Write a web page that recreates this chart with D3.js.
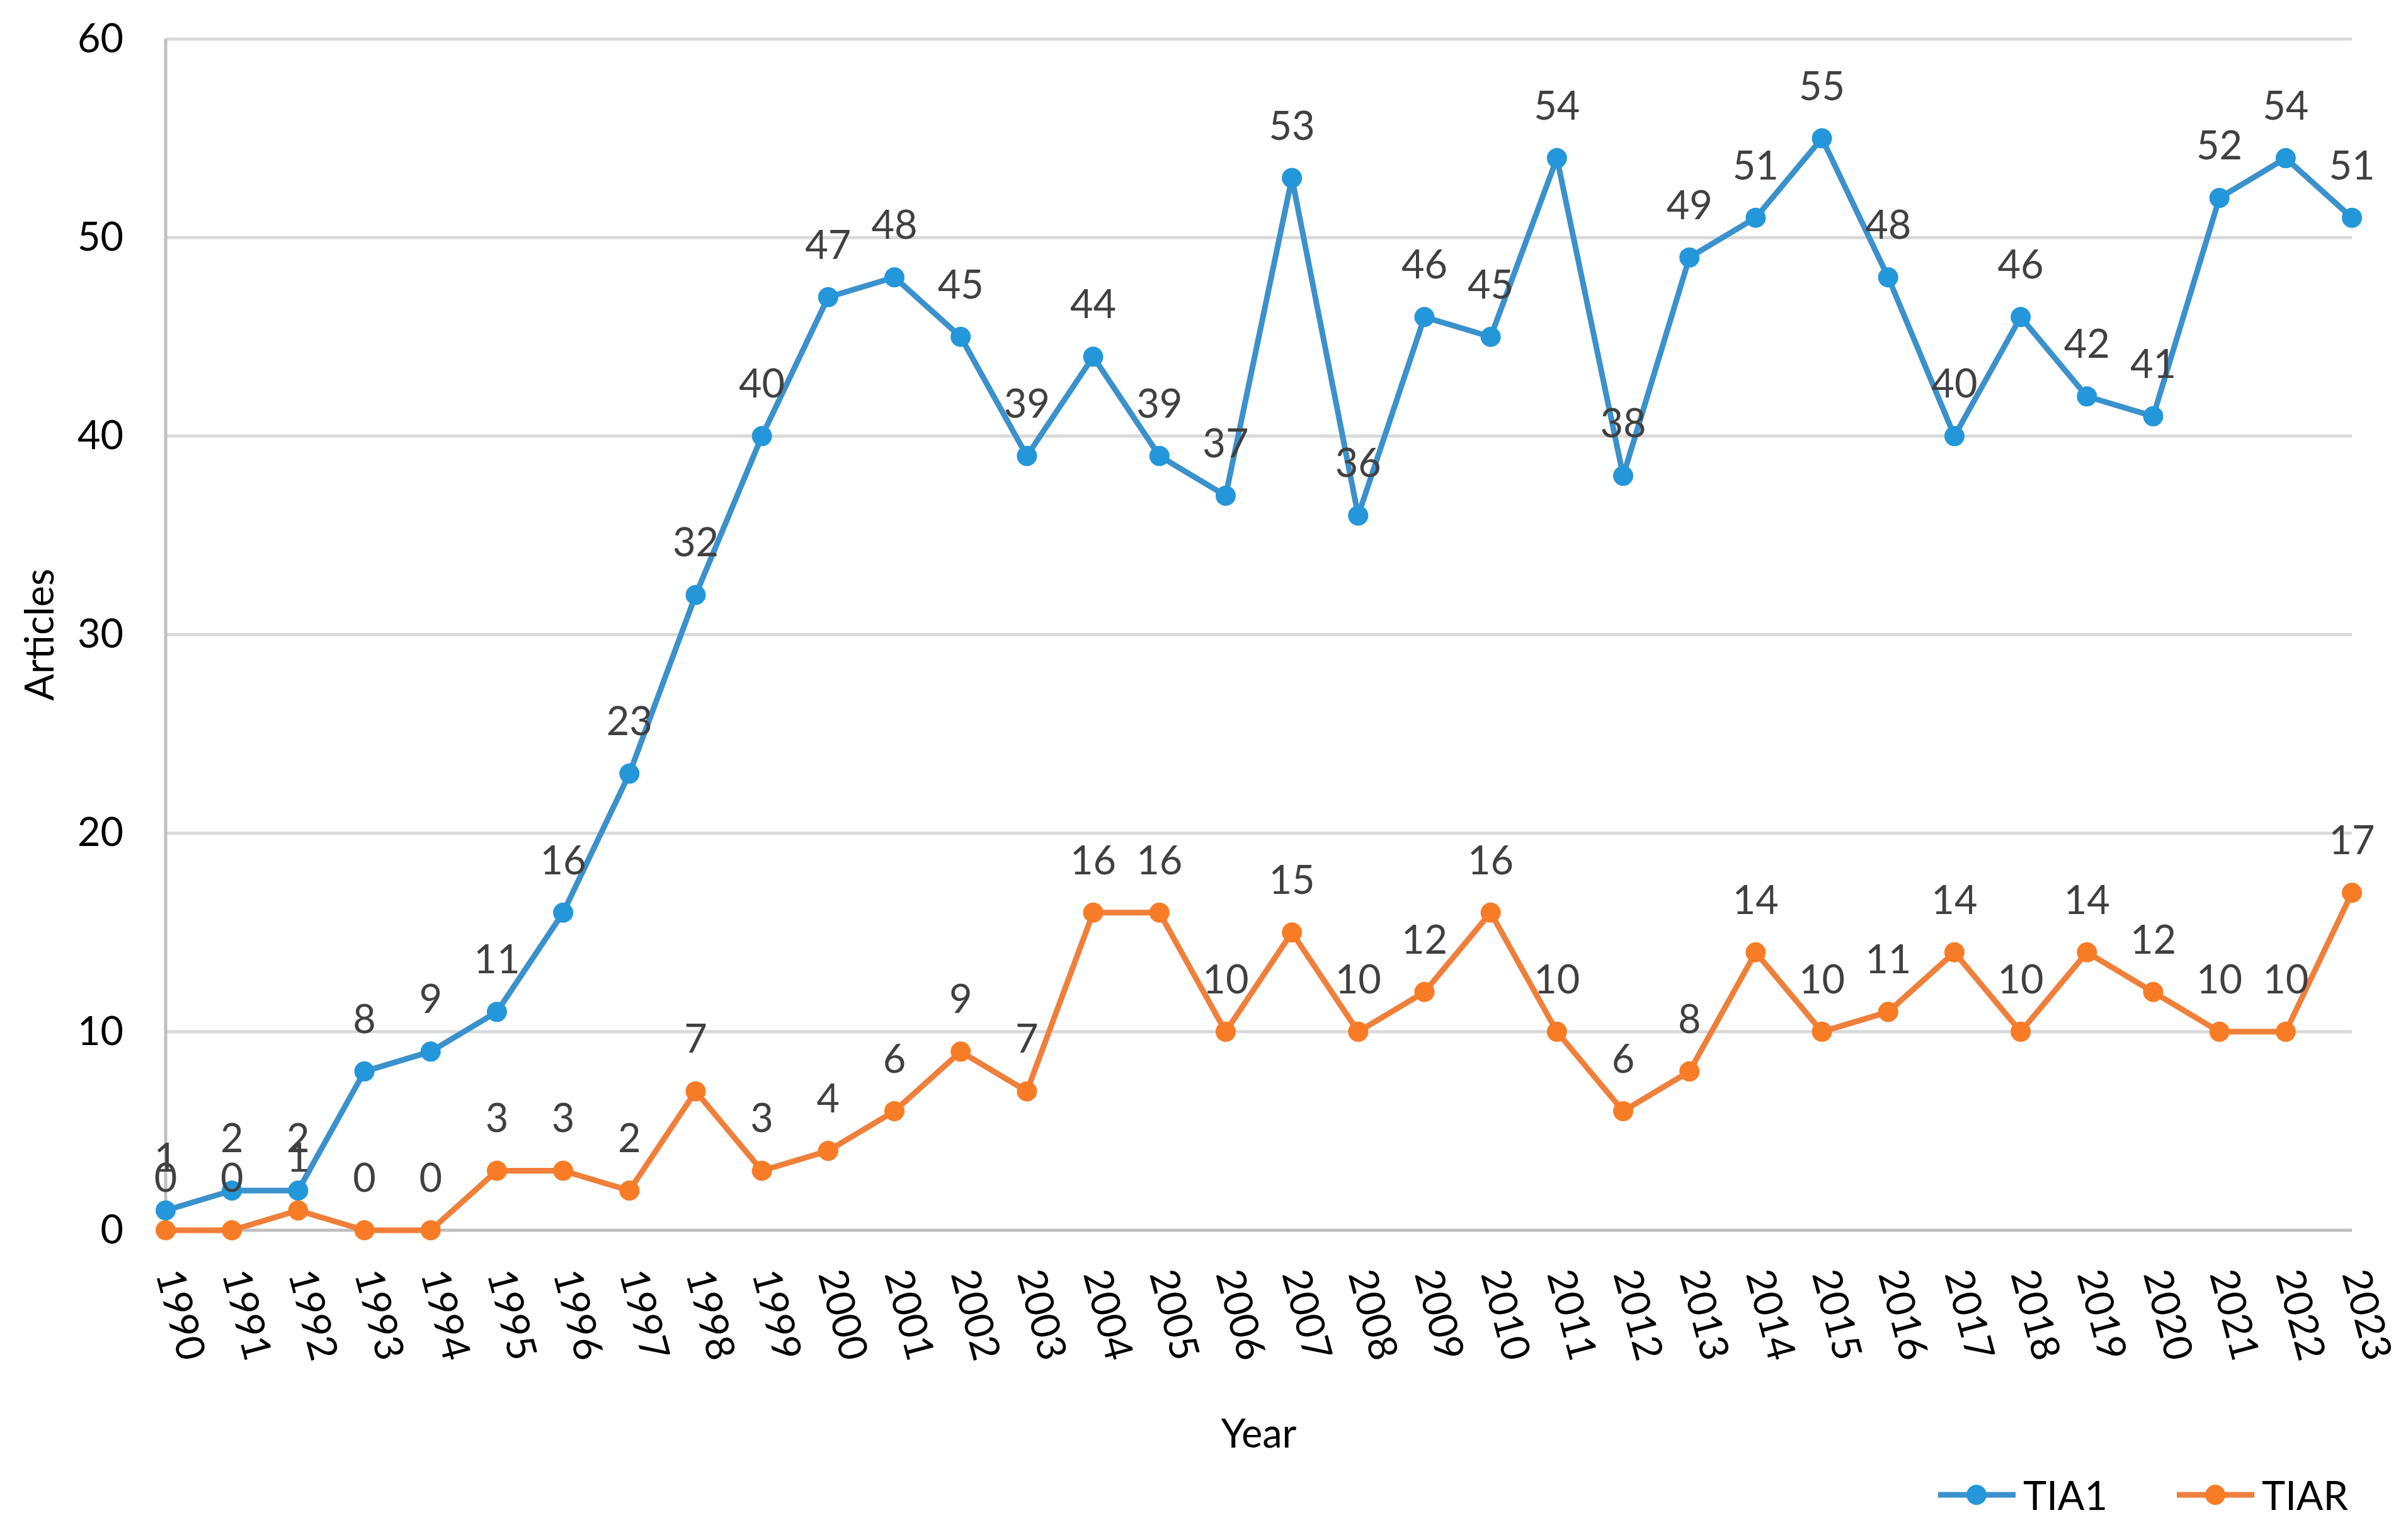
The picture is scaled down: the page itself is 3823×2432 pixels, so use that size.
<!DOCTYPE html>
<html>
<head>
<meta charset="utf-8">
<script src="https://cdn.jsdelivr.net/npm/d3@7"></script>
<style>
  body { margin: 0; background: #fff; }
  text { font-family: Lato, "Open Sans", sans-serif; }
</style>
</head>
<body>
<div id="chart"></div>
<script>
// data
const years = d3.range(1990, 2024).map(String);
const tia1 = [1, 2, 2, 8, 9, 11, 16, 23, 32, 40, 47, 48, 45, 39, 44, 39, 37, 53, 36, 46, 45, 54, 38, 49, 51, 55, 48, 40, 46, 42, 41, 52, 54, 51];
const tiar = [0, 0, 1, 0, 0, 3, 3, 2, 7, 3, 4, 6, 9, 7, 16, 16, 10, 15, 10, 12, 16, 10, 6, 8, 14, 10, 11, 14, 10, 14, 12, 10, 10, 17];
const yTicks = [0, 10, 20, 30, 40, 50, 60];
const seriesNames = ["TIA1", "TIAR"];

const width = 3823, height = 2432;
const fontSize = 63;

const series = [
  { name: seriesNames[0], values: tia1, line: "#3b91cc", dot: "#2397da" },
  { name: seriesNames[1], values: tiar, line: "#ef7f3a", dot: "#f87c26" }
];

const svg = d3.select("#chart")
  .append("svg")
  .attr("width", width)
  .attr("height", height);

const x = d3.scalePoint()
  .domain(years)
  .range([263, 3734]);

const y = d3.scaleLinear()
  .domain([0, 60])
  .range([1953, 62]);

// gridlines
svg.append("g")
  .selectAll("line")
  .data(yTicks.filter(d => d > 0))
  .enter()
  .append("line")
  .attr("x1", x.range()[0])
  .attr("x2", x.range()[1])
  .attr("y1", d => y(d))
  .attr("y2", d => y(d))
  .style("stroke", "#d9d9d9")
  .style("stroke-width", 5);

// axis lines
svg.append("line")
  .attr("x1", x.range()[0]).attr("x2", x.range()[0])
  .attr("y1", y(60)).attr("y2", y(0))
  .style("stroke", "#bfbfbf").style("stroke-width", 5);
svg.append("line")
  .attr("x1", x.range()[0]).attr("x2", x.range()[1])
  .attr("y1", y(0)).attr("y2", y(0))
  .style("stroke", "#bfbfbf").style("stroke-width", 5);

// y axis labels
const yAxis = svg.append("g")
  .attr("transform", `translate(${x.range()[0]},0)`)
  .call(d3.axisLeft(y).tickValues(yTicks).tickSize(0).tickPadding(67));
yAxis.select(".domain").remove();
yAxis.selectAll("text")
  .style("font-size", fontSize + "px")
  .style("font-family", "Lato")
  .style("fill", "#000");

// x axis labels, slanted
const xAxis = svg.append("g")
  .attr("transform", `translate(0,${y(0)})`)
  .call(d3.axisBottom(x).tickSize(0));
xAxis.select(".domain").remove();
xAxis.selectAll("text")
  .attr("transform", "translate(3,64) rotate(75)")
  .attr("x", 0)
  .attr("y", 0)
  .attr("dy", "0.32em")
  .style("text-anchor", "start")
  .style("font-size", fontSize + "px")
  .style("font-family", "Lato")
  .style("fill", "#000");

// axis titles
svg.append("text")
  .attr("transform", `translate(63,${(y(0) + y(60)) / 2}) rotate(-90)`)
  .attr("dy", "0.35em")
  .attr("text-anchor", "middle")
  .style("font-size", fontSize + "px")
  .text("Articles");

svg.append("text")
  .attr("x", (x.range()[0] + x.range()[1]) / 2)
  .attr("y", 2298)
  .attr("text-anchor", "middle")
  .style("font-size", fontSize + "px")
  .text("Year");

// lines and markers
const line = d3.line()
  .x((d, i) => x(years[i]))
  .y(d => y(d));

series.forEach(s => {
  svg.append("path")
    .datum(s.values)
    .attr("d", line)
    .style("fill", "none")
    .style("stroke", s.line)
    .style("stroke-width", 9)
    .style("stroke-linejoin", "round");

  svg.append("g")
    .selectAll("circle")
    .data(s.values)
    .enter()
    .append("circle")
    .attr("cx", (d, i) => x(years[i]))
    .attr("cy", d => y(d))
    .attr("r", 16)
    .style("fill", s.dot);
});

// data labels above each point
series.forEach(s => {
  svg.append("g")
    .selectAll("text")
    .data(s.values)
    .enter()
    .append("text")
    .attr("x", (d, i) => x(years[i]))
    .attr("y", d => y(d) - 61)
    .attr("text-anchor", "middle")
    .style("font-size", fontSize + "px")
    .style("fill", "#404040")
    .text(d => d);
});

// legend
const legendX = [3077, 3456];
series.forEach((s, i) => {
  const g = svg.append("g").attr("transform", `translate(${legendX[i]},2373)`);
  g.append("line")
    .attr("x1", 0).attr("x2", 123)
    .style("stroke", s.line)
    .style("stroke-width", 9);
  g.append("circle")
    .attr("cx", 61)
    .attr("r", 16)
    .style("fill", s.dot);
  g.append("text")
    .attr("x", 135)
    .attr("y", 24)
    .style("font-size", fontSize + "px")
    .style("fill", "#000")
    .text(s.name);
});
</script>
</body>
</html>
